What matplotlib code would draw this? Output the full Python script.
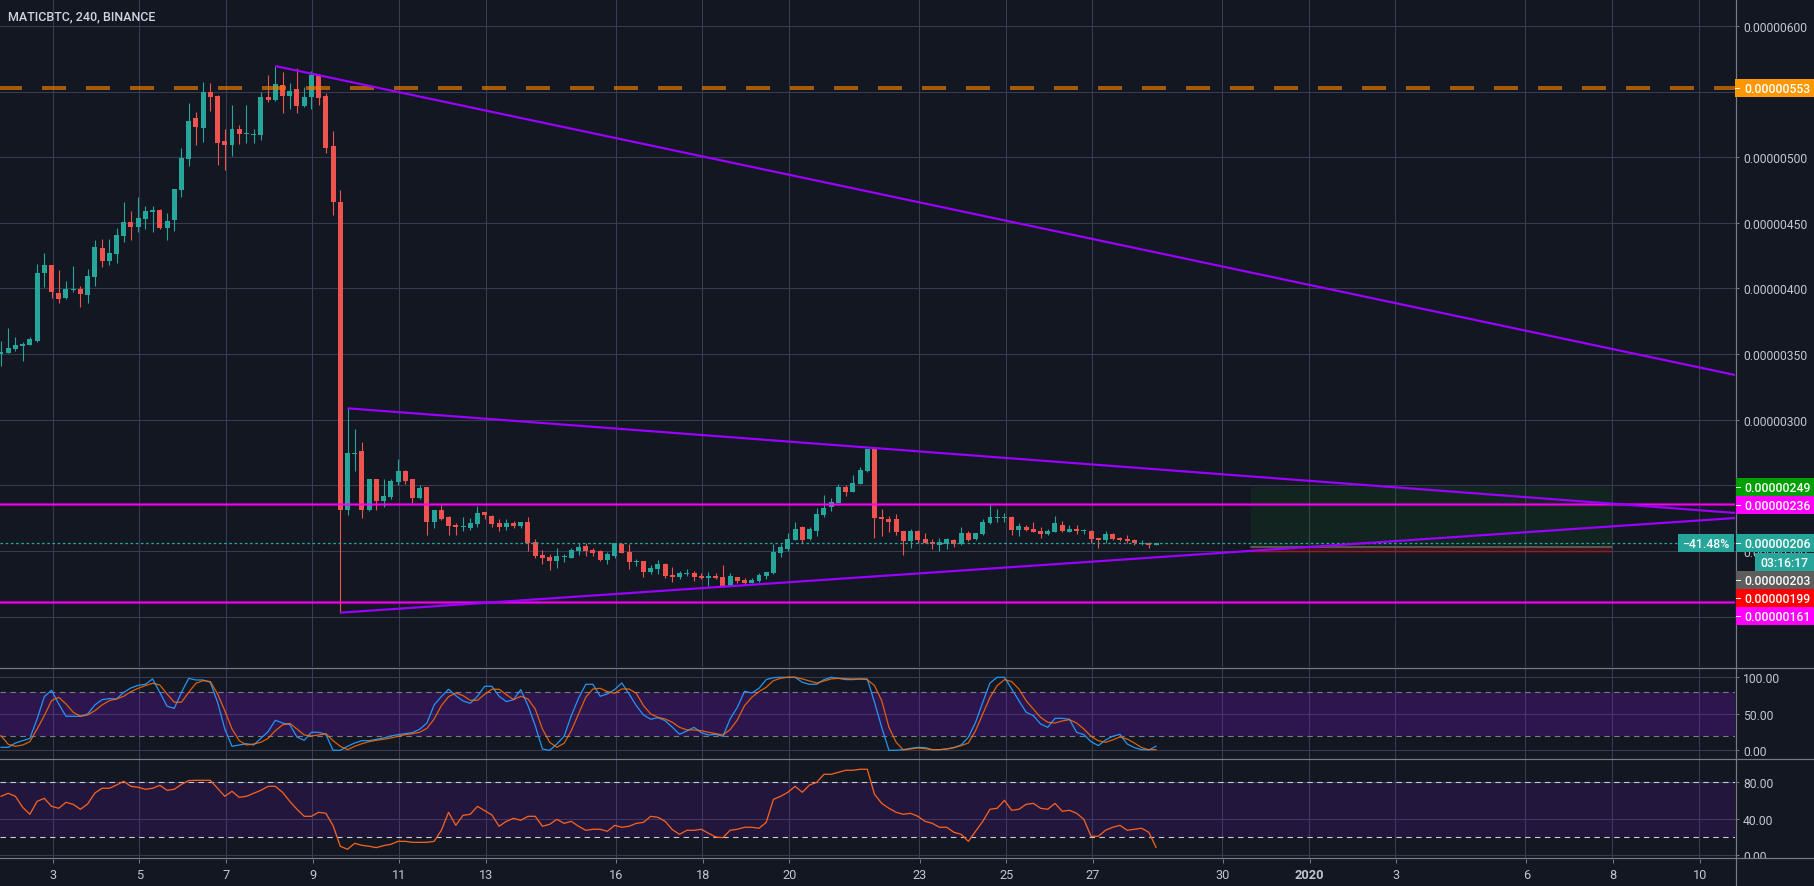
import matplotlib
matplotlib.use("Agg")
import matplotlib.pyplot as plt
from matplotlib.patches import Rectangle

# prices are in satoshi (1e-8 BTC), one candle = 4h
opens = [349.8, 350.8, 353.9, 356.2, 356.9, 360.0, 411.8, 417.9, 396.5, 392.7,
         398.8, 399.6, 395.0, 408.7, 430.8, 421.0, 426.3, 440.0, 450.6, 446.8,
         453.0, 458.3, 459.8, 446.1, 452.2, 475.0, 498.6, 529.9, 522.3, 549.7,
         546.7, 512.4, 509.3, 521.5, 517.7, 516.9, 516.9, 545.9, 543.6, 555.0,
         546.7, 552.0, 539.0, 545.9, 561.9, 546.7, 508.6, 465.9, 231.5, 273.9,
         276.2, 231.5, 254.8, 238.1, 241.1, 252.6, 260.9, 254.8, 240.4, 248.8,
         222.1, 231.2, 225.9, 219.8, 218.5, 217.5, 220.6, 229.7, 226.7, 221.3,
         218.3, 221.3, 219.0, 222.1, 206.8, 196.9, 195.4, 192.4, 195.4, 194.6,
         200.0, 203.8, 200.8, 200.0, 193.1, 196.2, 205.3, 199.2, 191.6, 192.4,
         184.0, 186.3, 190.0, 181.7, 180.2, 182.5, 183.2, 180.9, 179.4, 180.9,
         180.2, 173.3, 180.2, 177.9, 175.6, 177.1, 180.9, 183.2, 198.5, 201.5,
         208.4, 218.3, 209.1, 215.2, 227.4, 233.5, 236.6, 248.8, 245.0, 251.1,
         260.9, 277.7, 225.9, 224.4, 224.4, 215.2, 207.6, 215.2, 209.1, 206.8,
         204.6, 205.3, 208.4, 205.3, 213.7, 209.1, 212.9, 221.3, 225.1, 225.1,
         225.9, 216.0, 218.3, 216.7, 215.2, 212.9, 214.5, 219.8, 214.5, 216.7,
         215.5, 215.2, 209.9, 208.4, 212.9, 209.9, 209.1, 208.4, 205.3, 206.1, 204.6]
closes = [351.3, 354.6, 356.9, 357.7, 361.5, 411.8, 417.9, 397.3, 392.0, 399.6,
          399.6, 395.8, 409.5, 431.6, 421.0, 427.0, 440.7, 450.6, 446.8, 453.7,
          459.0, 459.8, 446.1, 451.4, 475.8, 499.4, 527.6, 523.0, 549.7, 545.9,
          510.8, 509.3, 521.5, 517.7, 518.5, 517.7, 545.9, 543.6, 555.8, 546.7,
          550.5, 539.0, 545.9, 562.7, 545.1, 507.0, 465.9, 231.5, 274.7, 274.7,
          231.5, 254.8, 238.1, 241.9, 253.3, 260.9, 253.3, 240.4, 248.0, 222.1,
          231.2, 224.4, 219.0, 218.3, 219.0, 221.3, 228.9, 227.4, 220.6, 218.3,
          221.3, 219.0, 222.1, 206.1, 196.2, 194.6, 192.4, 196.2, 196.2, 200.8,
          203.1, 200.0, 198.5, 193.1, 197.7, 206.1, 198.5, 191.6, 192.4, 184.0,
          187.0, 190.0, 180.9, 180.2, 183.2, 183.2, 180.2, 179.4, 180.9, 179.4,
          173.3, 180.9, 177.1, 175.6, 177.9, 181.7, 184.0, 199.2, 203.1, 209.1,
          216.7, 208.4, 216.7, 228.2, 232.7, 237.3, 248.8, 245.0, 251.8, 261.7,
          277.7, 225.4, 224.4, 222.1, 214.5, 207.6, 215.2, 208.4, 206.1, 205.3,
          206.8, 209.1, 205.3, 213.7, 208.4, 213.7, 222.1, 225.9, 225.9, 225.9,
          216.0, 219.0, 216.0, 214.5, 212.9, 215.2, 221.3, 215.2, 216.7, 215.2,
          216.0, 209.1, 208.4, 212.9, 209.1, 208.4, 207.6, 206.1, 205.8, 204.6, 205.8]
highs = [360.0, 369.9, 363.0, 359.2, 363.0, 418.6, 427.0, 417.9, 414.1, 405.7,
         417.1, 401.9, 414.8, 437.0, 437.7, 437.7, 446.1, 465.9, 459.0, 469.7,
         462.8, 462.8, 460.6, 457.5, 475.8, 507.0, 541.3, 534.5, 557.3, 556.6,
         547.4, 521.5, 539.8, 524.6, 539.8, 521.5, 549.7, 562.7, 569.5, 565.0,
         556.6, 568.0, 553.5, 565.7, 563.4, 549.0, 520.0, 475.0, 308.7, 293.0,
         283.0, 254.8, 254.8, 254.8, 254.8, 270.1, 261.7, 254.8, 250.3, 248.8,
         231.2, 235.1, 226.7, 221.3, 225.9, 225.1, 234.3, 229.7, 227.4, 224.4,
         224.4, 222.8, 222.1, 225.9, 209.1, 200.8, 197.7, 202.3, 197.7, 202.3,
         206.1, 206.1, 202.3, 200.8, 199.2, 206.1, 206.1, 205.3, 193.9, 192.4,
         189.3, 193.1, 190.8, 187.8, 184.7, 186.3, 184.7, 183.2, 184.0, 183.2,
         189.3, 183.2, 180.2, 179.4, 179.4, 183.2, 184.0, 205.3, 205.3, 213.7,
         222.1, 219.0, 218.3, 232.7, 242.6, 240.4, 251.1, 250.3, 257.9, 264.0,
         277.7, 277.7, 232.0, 226.7, 228.2, 215.2, 216.7, 216.0, 213.7, 209.1,
         209.9, 209.9, 209.1, 218.3, 215.2, 213.7, 224.4, 235.0, 232.0, 229.0,
         226.7, 221.3, 219.8, 222.1, 218.3, 216.7, 226.7, 222.8, 219.8, 219.8,
         216.7, 216.0, 209.9, 215.2, 213.7, 210.7, 212.2, 209.1, 208.4, 206.8, 205.8]
lows = [341.2, 350.8, 352.3, 344.7, 356.9, 359.2, 401.1, 392.7, 389.0, 392.0,
        397.3, 385.9, 389.0, 401.9, 416.4, 417.9, 419.4, 435.4, 437.0, 443.0,
        445.3, 443.0, 445.3, 437.0, 443.8, 469.7, 493.3, 509.3, 511.6, 535.2,
        494.1, 490.3, 501.0, 510.1, 510.8, 510.8, 513.1, 542.1, 542.8, 533.7,
        536.7, 533.7, 538.3, 536.7, 539.8, 503.2, 456.0, 153.0, 227.4, 260.9,
        225.1, 230.5, 231.2, 233.5, 239.6, 250.3, 251.1, 236.6, 239.6, 212.2,
        217.5, 223.6, 212.2, 212.2, 215.2, 216.0, 218.3, 224.4, 218.3, 215.2,
        216.0, 217.5, 217.5, 200.0, 194.6, 190.0, 185.5, 187.0, 191.6, 194.6,
        196.9, 196.2, 196.2, 192.4, 190.0, 194.6, 198.5, 186.3, 188.6, 180.2,
        182.5, 182.5, 179.4, 176.4, 178.6, 180.9, 177.1, 178.6, 173.3, 178.6,
        173.3, 173.3, 175.6, 174.1, 175.6, 176.4, 178.6, 182.5, 195.4, 200.0,
        208.4, 206.1, 208.4, 211.4, 225.9, 230.5, 236.6, 241.9, 245.0, 251.1,
        260.2, 209.9, 211.4, 214.5, 212.2, 196.9, 202.3, 206.1, 206.1, 201.5,
        200.0, 201.5, 203.0, 204.6, 207.6, 208.4, 212.2, 220.6, 222.1, 222.1,
        212.2, 211.4, 215.2, 214.5, 209.9, 212.2, 214.5, 214.5, 214.5, 212.9,
        212.9, 206.1, 202.3, 206.1, 208.4, 207.6, 206.1, 204.6, 204.6, 202.3, 204.6]

stoch_k = [4.1, 4.1, 10.0, 13.2, 16.4, 42.9, 73.5, 82.2, 63.5, 46.6,
           46.6, 46.6, 49.8, 62.1, 69.4, 70.8, 70.3, 79.4, 85.4, 89.0,
           90.4, 97.7, 79.4, 60.3, 57.5, 79.4, 98.6, 96.3, 96.3, 93.1,
           65.8, 29.2, 5.5, 7.3, 9.1, 7.3, 16.4, 25.6, 41.1, 37.4,
           35.2, 18.3, 13.7, 24.7, 24.7, 21.9, 0.0, 0.0, 5.5, 10.0,
           13.2, 13.2, 15.1, 16.9, 19.6, 21.5, 22.8, 24.2, 28.8, 37.4,
           62.1, 73.5, 83.6, 74.9, 67.6, 64.4, 74.0, 87.7, 87.7, 74.0,
           66.7, 69.4, 83.1, 61.2, 33.8, 1.8, 0.0, 8.7, 19.2, 47.5,
           71.2, 90.4, 90.4, 74.0, 77.2, 83.1, 92.2, 77.2, 61.2, 48.4,
           42.5, 44.7, 40.6, 31.5, 21.9, 26.5, 31.5, 24.2, 21.0, 21.9,
           19.2, 42.9, 58.9, 80.8, 78.5, 84.9, 96.8, 99.5, 100.0, 100.0,
           100.0, 93.1, 90.4, 90.4, 96.8, 100.0, 98.6, 96.8, 96.8, 97.7,
           97.7, 65.8, 31.5, 0.0, 0.0, 0.9, 2.7, 4.1, 3.7, 0.9,
           0.9, 1.8, 3.7, 7.3, 17.8, 38.4, 65.8, 92.2, 100.0, 100.0,
           84.0, 68.0, 52.1, 47.5, 36.1, 31.5, 43.8, 43.8, 42.5, 24.7,
           21.5, 11.9, 6.4, 14.2, 19.2, 21.9, 8.7, 3.7, 0.9, 0.5, 5.5]
stoch_d = [20.1, 8.2, 5.5, 7.3, 11.9, 29.2, 47.5, 68.0, 72.6, 63.5,
           52.1, 46.6, 48.4, 54.3, 62.1, 68.0, 70.3, 74.0, 80.4, 84.9,
           88.6, 91.8, 89.5, 77.2, 65.8, 65.8, 79.4, 91.8, 95.4, 94.1,
           77.2, 54.3, 29.2, 13.2, 7.3, 8.7, 11.0, 16.4, 26.9, 34.7,
           37.0, 29.2, 21.0, 19.6, 21.0, 22.8, 13.2, 5.5, 0.9, 5.5,
           9.1, 11.9, 13.7, 15.1, 16.9, 19.2, 21.5, 22.8, 24.7, 30.1,
           42.9, 61.2, 73.5, 78.5, 74.9, 68.5, 68.5, 76.7, 83.6, 83.6,
           76.3, 69.4, 74.0, 70.3, 56.6, 29.2, 11.0, 4.1, 9.6, 26.9,
           49.8, 72.6, 84.0, 84.9, 80.4, 78.1, 84.0, 84.0, 78.1, 61.2,
           49.8, 45.2, 42.9, 38.4, 31.5, 27.9, 27.9, 26.9, 24.7, 22.8,
           21.0, 28.3, 41.6, 61.2, 72.6, 80.4, 86.3, 95.4, 98.6, 100.0,
           100.0, 97.7, 95.0, 92.2, 95.0, 97.7, 98.6, 98.2, 97.7, 97.7,
           96.8, 88.6, 68.0, 31.5, 11.0, 0.5, 1.8, 3.2, 2.3, 0.9,
           0.9, 1.8, 3.7, 6.4, 10.0, 26.9, 49.8, 72.6, 88.6, 96.8,
           94.1, 84.0, 68.0, 56.6, 45.2, 38.4, 37.4, 40.2, 42.0, 37.4,
           29.2, 19.2, 13.2, 11.0, 14.2, 18.3, 15.5, 10.0, 3.7, 0.9, 0.9]
rsi = [64.6, 67.9, 64.6, 52.6, 44.9, 59.1, 62.4, 53.6, 51.5, 58.0,
       55.8, 50.4, 56.2, 68.2, 73.4, 73.4, 77.0, 81.0, 75.5, 74.5,
       72.3, 73.4, 76.6, 71.2, 72.3, 77.7, 81.8, 82.1, 82.1, 82.1,
       73.4, 64.6, 70.1, 63.5, 64.6, 67.9, 71.2, 75.5, 75.5, 69.0,
       59.1, 50.4, 42.7, 42.7, 47.1, 46.0, 32.5, 9.9, 6.6, 13.1,
       10.9, 9.9, 8.4, 10.6, 12.0, 15.3, 15.3, 14.2, 14.2, 14.2,
       15.3, 27.4, 47.1, 32.8, 43.8, 44.9, 53.6, 48.9, 44.2, 31.8,
       37.2, 40.5, 38.3, 42.7, 42.7, 31.8, 33.9, 39.4, 35.0, 37.2,
       31.8, 27.4, 28.5, 28.5, 26.3, 32.8, 30.7, 31.8, 35.0, 36.1,
       42.7, 41.6, 37.2, 28.1, 23.0, 27.4, 27.4, 28.5, 24.1, 20.1,
       19.3, 27.4, 28.5, 30.7, 30.7, 29.6, 36.1, 61.3, 64.6, 69.0,
       75.5, 69.0, 77.0, 79.9, 88.7, 88.7, 90.9, 93.1, 93.1, 94.2,
       94.2, 66.8, 56.9, 51.5, 47.1, 44.9, 46.0, 42.7, 37.2, 35.0,
       30.7, 30.7, 25.2, 23.0, 15.3, 26.3, 37.2, 50.4, 51.5, 60.2,
       49.3, 50.4, 55.8, 56.9, 51.5, 50.4, 56.9, 48.2, 49.3, 46.0,
       39.4, 20.8, 20.8, 27.4, 30.7, 32.8, 27.4, 28.5, 29.6, 25.2, 8.8]

# trend lines: (candle, price) pairs
trend_upper = [(38, 569.5), (240.2, 334.1)]
trend_mid = [(48, 308.7), (240.2, 229.0)]
trend_low = [(47, 153.0), (240.2, 225.1)]
level_lines = [236, 161]
orange_level = 553
last_price = 206
target_box = (173.1, 223.2, 203, 249)
stop_box = (173.1, 223.2, 199, 203)

price_ticks = [150, 200, 250, 300, 350, 400, 450, 500, 550, 600]
hidden_ticks = [150, 250, 550]  # these sit fully behind the price tags
stoch_ticks = [0, 50, 100]
rsi_ticks = [0, 40, 80]
day_labels = ['3', '5', '7', '9', '11', '13', '16', '18', '20', '23', '25', '27',
              '30', '2020', '3', '6', '8', '10']
day_offsets = [0, 2, 4, 6, 8, 10, 13, 15, 17, 20, 22, 24, 27, 29, 31, 34, 36, 38]

BG = '#131722'
GRID = '#363c4e'
AXIS = '#787b86'
TXT = '#c3c6ce'
UP = '#26a69a'
DOWN = '#ef5350'
PURPLE = '#9c00ff'
MAGENTA = '#ff00ff'
W, H = 1814, 887
PX = 0.72  # one pixel in points at dpi 100

plt.rcParams['font.family'] = ['Roboto', 'DejaVu Sans']
plt.rcParams['font.size'] = 8.7

fig = plt.figure(figsize=(W / 100, H / 100), dpi=100, facecolor=BG)
xmin, xmax = -0.1385, 240.2
xticks = [7.15 + 6 * d for d in day_offsets]


def pane(top, bottom, ylim, ticks, labels):
    ax = fig.add_axes([0, 1 - bottom / H, 1735 / W, (bottom - top) / H], facecolor=BG)
    ax.set_xlim(xmin, xmax)
    ax.set_ylim(*ylim)
    for s in ax.spines.values():
        s.set_visible(False)
    ax.set_xticks(xticks)
    ax.set_yticks(ticks)
    ax.set_yticklabels(labels)
    ax.yaxis.tick_right()
    ax.tick_params(axis='x', length=0, labelbottom=False)
    ax.tick_params(axis='y', length=4 * PX, width=PX, color=AXIS, labelcolor=TXT, pad=3)
    ax.grid(True, color=GRID, lw=1.1 * PX)
    ax.set_axisbelow(True)
    return ax


price_labels = ['' if t in hidden_ticks else '%.8f' % (t * 1e-8) for t in price_ticks]
ax = pane(0, 668, (111.6, 620.57), price_ticks, price_labels)
ax_s = pane(668.5, 759.5, (-11.2, 113.4), stoch_ticks, ['%.2f' % t for t in stoch_ticks])
ax_r = pane(759.5, 859.5, (-3.5, 106), rsi_ticks, ['%.2f' % t for t in rsi_ticks])

# candles
idx = list(range(len(opens)))
colors = [UP if c >= o else DOWN for o, c in zip(opens, closes)]
ax.vlines(idx, lows, highs, colors=colors, lw=1.1 * PX, zorder=3)
bottoms = [min(o, c) for o, c in zip(opens, closes)]
heights = [max(abs(o - c), 0.8) for o, c in zip(opens, closes)]
ax.bar(idx, heights, bottom=bottoms, width=0.69, color=colors, linewidth=0, zorder=3)

# position boxes
ax.add_patch(Rectangle((target_box[0], target_box[2]), target_box[1] - target_box[0],
                       target_box[3] - target_box[2], color='#10a010', alpha=0.1, lw=0, zorder=2))
ax.add_patch(Rectangle((stop_box[0], stop_box[2]), stop_box[1] - stop_box[0],
                       stop_box[3] - stop_box[2], color='#ff1010', alpha=0.18, lw=0, zorder=2))
ax.plot(target_box[:2], [203, 203], color='#6b6b5f', lw=1.5 * PX, zorder=2.5)
ax.plot(stop_box[:2], [199, 199], color='#ff0000', alpha=0.3, lw=1.5 * PX, zorder=2.5)

ax.axhline(last_price, color=UP, lw=1.3 * PX, ls=(0, (2, 2)), zorder=4)
ax.axhline(orange_level, color='#f57c00', alpha=0.66, lw=4 * PX, ls=(0.5, (6, 5)), zorder=5)
for lvl in level_lines:
    ax.axhline(lvl, color=MAGENTA, alpha=0.5, lw=3.2 * PX, zorder=5)
    ax.axhline(lvl, color=MAGENTA, alpha=0.9, lw=1.2 * PX, zorder=5)
for line in (trend_upper, trend_mid, trend_low):
    xs, ys = zip(*line)
    ax.plot(xs, ys, color=PURPLE, lw=2.2 * PX, zorder=6, solid_capstyle='butt')

# stochastic
ax_s.axhspan(20, 80, color='#9915ff', alpha=0.2, lw=0, zorder=1.5)
for v in (20, 80):
    ax_s.axhline(v, color=AXIS, lw=1.1 * PX, ls=(0, (5, 4)), zorder=2)
ax_s.plot(idx, stoch_k, color='#2196f3', lw=1.25 * PX, zorder=3)
ax_s.plot(idx, stoch_d, color='#ff6d00', lw=1.25 * PX, alpha=0.85, zorder=4)

# rsi
ax_r.axhspan(20, 80, color='#9915ff', alpha=0.12, lw=0, zorder=1.5)
for v in (20, 80):
    ax_r.axhline(v, color='#c9cbd1', lw=1.1 * PX, ls=(0, (5, 4)), zorder=2)
ax_r.plot(idx, rsi, color='#f4611f', lw=1.3 * PX, zorder=3)

# time scale strip, covers the clipped 0.00 of the rsi scale
strip = fig.add_axes([0, 0, 1, (H - 859.5) / H], facecolor=BG, zorder=5)
strip.set_xlim(xmin, xmin + (W - 1) / 7.22)
strip.set_ylim(0, 1)
for s in strip.spines.values():
    s.set_visible(False)
strip.set_yticks([])
strip.set_xticks(xticks)
strip.tick_params(axis='x', top=True, bottom=False, labelbottom=False, direction='in',
                  length=4 * PX, width=PX, color=AXIS)
for pos, lab in zip(xticks, day_labels):
    strip.text(pos, 0.43, lab, ha='center', va='center', color=TXT, fontsize=9.2,
               fontweight='bold' if lab == '2020' else 'normal')

# overlay in pixels for the dividers and the price tags
ov = fig.add_axes([0, 0, 1, 1], zorder=10)
ov.set_xlim(0, W)
ov.set_ylim(H, 0)
ov.axis('off')
ov.patch.set_alpha(0)
for y in (668.5, 759.5, 859.5):
    ov.plot([0, W], [y, y], color=AXIS, lw=1.2 * PX)
ov.plot([1735.5, 1735.5], [0, H], color=AXIS, lw=1.2 * PX)


def tag(x0, x1, y0, y1, color, text, x_text, tick=True, ha='left'):
    ov.add_patch(Rectangle((x0, y0), x1 - x0, y1 - y0, color=color, lw=0, zorder=3))
    ov.text(x_text, (y0 + y1) / 2 + 0.3, text, color='white', ha=ha, va='center',
            fontsize=8.8, zorder=4, fontweight='medium')
    if tick:
        ov.plot([x0, x0 + 4], [(y0 + y1) / 2] * 2, color='white', lw=PX, zorder=4)


tag(1735, W, 80, 98, '#ff9800', '0.00000553', 1744)
tag(1736, W, 479, 497, '#00a000', '0.00000249', 1744)
tag(1736, W, 497, 515, MAGENTA, '0.00000236', 1744)
tag(1678, 1734, 535, 553, UP, '\u221241.48%', 1706, tick=False, ha='center')
tag(1736, W, 535, 553, UP, '0.00000206', 1744)
tag(1755, W, 554, 572, UP, '03:16:17', 1784.5, tick=False, ha='center')
tag(1736, W, 572, 590, '#5d5d5d', '0.00000203', 1744)
tag(1736, W, 590, 608, '#ff0000', '0.00000199', 1744)
tag(1736, W, 608, 626, MAGENTA, '0.00000161', 1744)

ov.text(8, 16.5, 'MATICBTC, 240, BINANCE', color='#d1d4dc', fontsize=9.0, va='center',
        fontweight='medium')

fig.savefig('out.png', dpi=100, facecolor=BG)
